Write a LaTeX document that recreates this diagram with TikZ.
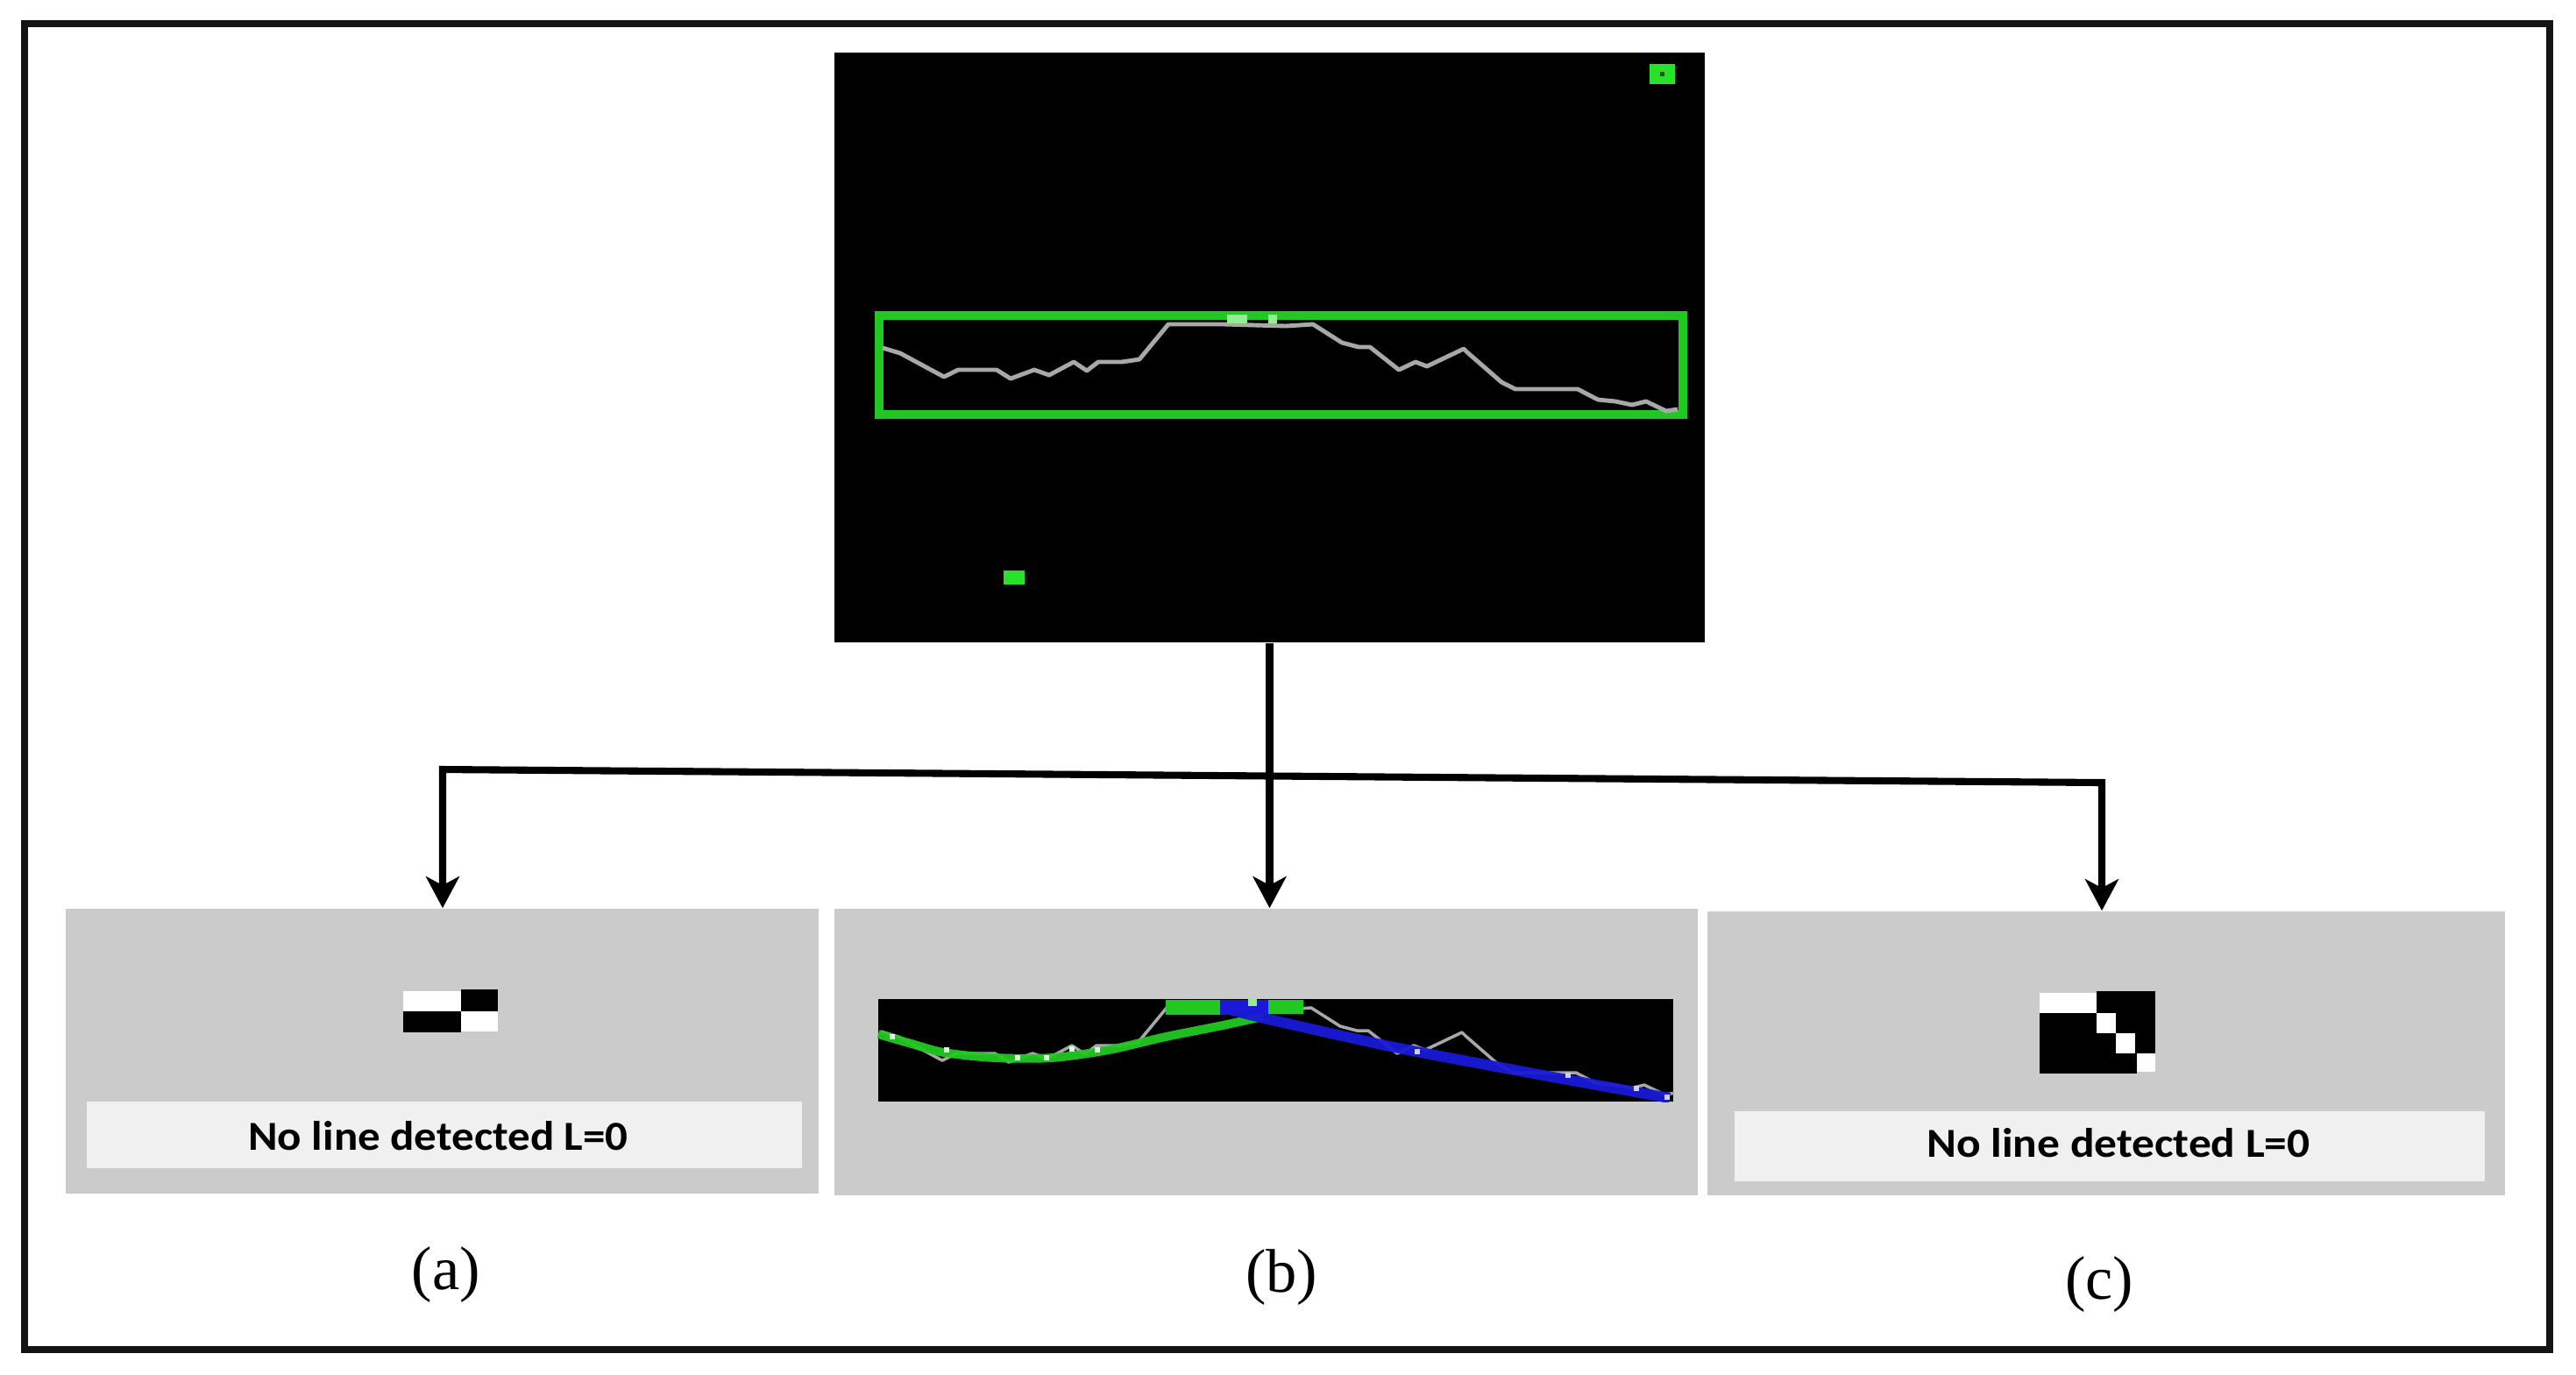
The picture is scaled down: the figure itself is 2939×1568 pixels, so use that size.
\documentclass[tikz,border=0pt]{standalone}
\usepackage{fontspec}
\setmainfont{Liberation Serif}
\newfontfamily\lblfont{Carlito}
\usetikzlibrary{arrows.meta}
\definecolor{panelgrey}{RGB}{203,203,203}
\definecolor{boxgrey}{RGB}{240,240,240}
\definecolor{imggreen}{RGB}{34,200,34}
\definecolor{brightgreen}{RGB}{40,225,40}
\definecolor{lightgreen}{RGB}{150,235,150}
\definecolor{profgrey}{RGB}{168,168,168}
\definecolor{fitblue}{RGB}{25,25,215}
\tikzset{bigtip/.tip={Stealth[length=0.36cm,width=0.38cm,inset=0.1cm]}}
\newcommand{\drawprofile}[1]{%
  \draw[#1] (1007,397) -- (1027,403) -- (1077,430) -- (1093,422) -- (1137,422) -- (1153,432) -- (1180,422) -- (1197,428) -- (1225,413) -- (1240,423) -- (1253,413) -- (1280,413) -- (1300,410) -- (1333,370) -- (1397,370) -- (1467,372) -- (1498,370) -- (1531,391) -- (1550,396) -- (1563,396) -- (1596,422) -- (1615,413) -- (1628,418) -- (1670,398) -- (1674,402) -- (1713,436) -- (1729,444) -- (1800,444) -- (1823,456) -- (1843,458) -- (1862,462) -- (1878,458) -- (1901,469) -- (1914,467);}
\begin{document}
\begin{tikzpicture}[x=0.01cm,y=-0.01cm,
  panel/.style={fill=panelgrey, draw=none, inner sep=0pt},
  imgbox/.style={fill=black, draw=none, inner sep=0pt},
  labelbox/.style={fill=boxgrey, draw=none, inner sep=0pt},
  conn/.style={line width=2.3pt, draw=black, line join=miter},
  caption/.style={inner sep=0pt, font=\fontsize{20}{24}\selectfont},
  msg/.style={inner sep=0pt, anchor=south},
  dot/.style={fill=white!85!green, draw=none}]
\fill[white] (0,0) rectangle (2939,1568);
\useasboundingbox (0,0) rectangle (2939,1568);
% outer frame
\draw[line width=2.3pt, black!92] (28,27) rectangle (2909,1540);

% top image
\node[imgbox, minimum width=9.93cm, minimum height=6.73cm] (img) at (1448.5,396.5) {};
\node[draw=imggreen, line width=2.85pt, inner sep=0pt, minimum width=9.17cm, minimum height=1.13cm] (roi) at (1461.5,416.5) {};
\drawprofile{profgrey, line width=1.4pt, line join=round}
\draw[lightgreen, line width=2.6pt] (1400,364) -- (1423,364);
\draw[lightgreen, line width=2.6pt] (1447,364) -- (1457,364);
\node[fill=brightgreen, inner sep=0pt, minimum width=0.29cm, minimum height=0.23cm] (g1) at (1896.5,84.5) {};
\fill[black!60!green] (1894,82) rectangle (1899,87);
\node[fill=brightgreen, inner sep=0pt, minimum width=0.24cm, minimum height=0.16cm] (g2) at (1157,659) {};

% bottom panels
\node[panel, minimum width=8.59cm, minimum height=3.25cm] (pa) at (504.5,1199.5) {};
\node[panel, minimum width=9.85cm, minimum height=3.27cm] (pb) at (1444.5,1200.5) {};
\node[panel, minimum width=9.10cm, minimum height=3.24cm] (pc) at (2403,1202) {};

% panel (a)
\fill[white] (460,1131) rectangle (526,1154);
\fill[black] (526,1129) rectangle (568,1154);
\fill[black] (460,1154) rectangle (526,1178);
\fill[white] (526,1154) rectangle (568,1177);
\node[labelbox, minimum width=8.16cm, minimum height=0.76cm] (la) at (507,1295) {};
\node[msg] (ta) at (500,1314) {\resizebox{4.33cm}{0.33cm}{\lblfont\bfseries No line detected L=0}};

% panel (b)
\node[imgbox, minimum width=9.07cm, minimum height=1.17cm] (strip) at (1455.5,1198.5) {};
\begin{scope}
  \clip (strip.north west) rectangle (strip.south east);
  \begin{scope}[shift={(-2,780)}]
    \drawprofile{profgrey, line width=1pt, line join=round}
  \end{scope}
  \draw[imggreen, line width=2.8pt, opacity=0.95] plot[smooth, tension=0.5] coordinates {(1002,1180) (1040,1191) (1077,1201) (1135,1207) (1200,1207) (1265,1198) (1330,1183) (1395,1170) (1441,1160)};
  \fill[imggreen] (1330,1141) rectangle (1392,1158);
  \fill[imggreen] (1447,1141) rectangle (1487,1157);
  \fill[fitblue] (1392,1141) rectangle (1447,1158);
  \draw[fitblue, line width=3.4pt, opacity=0.95] plot[smooth, tension=0.4] coordinates {(1395,1150) (1447,1163) (1591,1195) (1750,1225) (1905,1253)};
  \fill[lightgreen] (1424,1140) rectangle (1434,1148);
  \foreach \px/\py in {1018/1183, 1080/1198, 1161/1207, 1194/1207, 1223/1197, 1252/1198} {\fill[dot] (\px-3,\py-3) rectangle (\px+3,\py+3);}
  \foreach \px/\py in {1617/1200, 1789/1227, 1867/1242, 1902/1252} {\fill[white!80!blue] (\px-3,\py-3) rectangle (\px+3,\py+3);}
\end{scope}

% panel (c)
\fill[white] (2327,1133) rectangle (2392,1156);
\fill[black] (2392,1131) rectangle (2459,1156);
\fill[black] (2327,1156) rectangle (2392,1179);
\fill[white] (2392,1156) rectangle (2414,1179);
\fill[black] (2414,1156) rectangle (2459,1179);
\fill[black] (2327,1179) rectangle (2414,1202);
\fill[white] (2414,1179) rectangle (2436,1202);
\fill[black] (2436,1179) rectangle (2459,1202);
\fill[black] (2327,1202) rectangle (2438,1225);
\fill[white] (2438,1202) rectangle (2459,1223);
\node[labelbox, minimum width=8.56cm, minimum height=0.80cm] (lc) at (2407,1308) {};
\node[msg] (tc) at (2417,1322) {\resizebox{4.37cm}{0.33cm}{\lblfont\bfseries No line detected L=0}};

% captions
\node[caption] (capa) at (509,1455) {(a)};
\node[caption] (capb) at (1462,1458) {(b)};
\node[caption] (capc) at (2395,1466) {(c)};

% connectors
\coordinate (jl) at (505,878);
\coordinate (jr) at (2398,893);
\draw[conn, arrows={bigtip-bigtip}] (jl |- pa.north) -- (jl) -- (jr) -- (jr |- pc.north);
\draw[conn, arrows={-bigtip}] (img.south) -- (img.south |- pb.north);
\end{tikzpicture}
\end{document}
